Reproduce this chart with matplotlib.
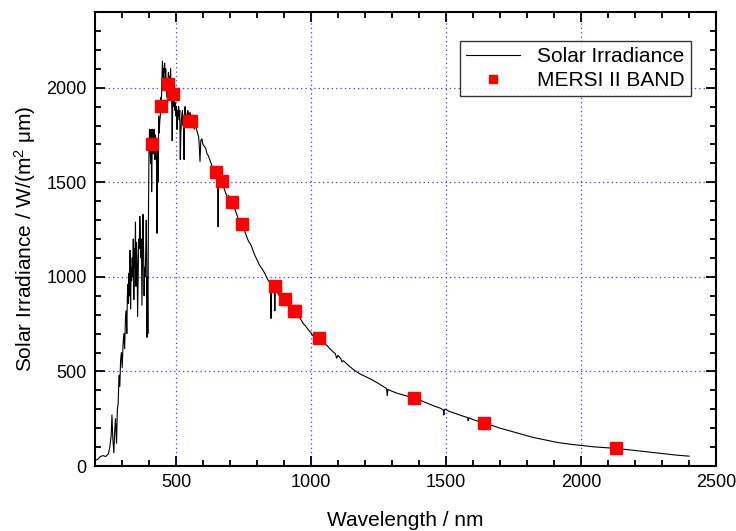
import matplotlib
matplotlib.use("Agg")
import matplotlib.pyplot as plt
from matplotlib.ticker import MultipleLocator

# solar spectrum (nm, W/(m2 um))
wavelength = [
    200, 210, 220, 230, 240, 250, 255, 260, 263, 266, 270, 273, 276, 280, 283, 286, 289, 292, 295, 298,
    301, 304, 307, 310, 313, 316, 318, 320, 322, 324, 326, 328, 330, 332, 334, 336, 338, 340, 342, 344,
    346, 348, 350, 352, 354, 356, 358, 360, 362, 364, 366, 368, 370, 372, 374, 376, 378, 380, 382, 384,
    386, 388, 390, 392, 393, 394, 396, 398, 400, 402, 404, 406, 408, 410, 412, 414, 416, 418, 420, 422,
    424, 426, 428, 430, 432, 434, 436, 438, 440, 442, 444, 446, 448, 450, 452, 454, 456, 458, 460, 462,
    464, 466, 468, 470, 472, 474, 476, 478, 480, 482, 484, 486, 488, 490, 492, 494, 496, 498, 500, 502,
    504, 506, 508, 510, 512, 514, 516, 518, 520, 522, 524, 526, 528, 530, 532, 534, 536, 540, 544, 548,
    552, 556, 560, 564, 568, 572, 576, 580, 584, 586, 589, 592, 596, 600, 605, 610, 615, 620, 625, 630,
    635, 640, 645, 650, 654, 656, 658, 662, 666, 670, 675, 680, 685, 690, 695, 700, 705, 710, 715, 720,
    725, 730, 735, 740, 745, 750, 755, 760, 765, 770, 775, 780, 790, 800, 810, 820, 830, 840, 845, 850,
    852, 854, 856, 860, 864, 866, 868, 875, 880, 890, 900, 910, 920, 930, 936, 940, 944, 950, 960, 970,
    980, 990, 1000, 1005, 1010, 1020, 1030, 1040, 1050, 1060, 1070, 1080, 1090, 1095, 1100, 1110, 1115, 1120, 1130, 1140,
    1150, 1160, 1170, 1180, 1190, 1200, 1210, 1220, 1230, 1240, 1250, 1260, 1270, 1280, 1282, 1285, 1300, 1320, 1340, 1360,
    1380, 1400, 1420, 1440, 1460, 1480, 1490, 1492, 1494, 1500, 1510, 1520, 1540, 1560, 1580, 1582, 1584, 1600, 1620, 1640,
    1660, 1680, 1700, 1720, 1740, 1760, 1780, 1800, 1820, 1840, 1860, 1880, 1900, 1920, 1940, 1960, 1980, 2000, 2050, 2100,
    2130, 2150, 2200, 2250, 2300, 2350, 2400,
]
irradiance = [
    30, 35, 50, 55, 50, 65, 100, 160, 270, 150, 70, 180, 250, 120, 300, 330, 480, 420, 560, 600,
    520, 640, 700, 620, 780, 820, 700, 900, 960, 860, 1020, 900, 1140, 830, 1050, 980, 1100, 1000, 1200, 880,
    1150, 1050, 1290, 950, 1180, 1100, 790, 1000, 1200, 1150, 1320, 1250, 1100, 1200, 850, 1100, 1330, 1150, 900, 1050,
    1000, 1120, 1300, 1050, 680, 1000, 700, 1300, 1650, 1780, 1700, 1600, 1780, 1450, 1700, 1780, 1650, 1700, 1780, 1620,
    1750, 1720, 1600, 1230, 1700, 1500, 1850, 1760, 1820, 1850, 1950, 1900, 2050, 2140, 2020, 2100, 2080, 2130, 2050, 2100,
    2020, 1950, 2050, 2000, 2080, 1980, 2060, 2020, 2100, 2000, 1960, 1720, 1920, 1980, 1900, 1950, 1880, 1920, 1850, 1900,
    1780, 1880, 1850, 1900, 1830, 1880, 1620, 1750, 1830, 1860, 1880, 1800, 1850, 1620, 1880, 1900, 1860, 1840, 1880, 1850,
    1870, 1840, 1800, 1830, 1780, 1810, 1780, 1760, 1740, 1700, 1610, 1720, 1730, 1700, 1690, 1680, 1650, 1640, 1620, 1600,
    1580, 1575, 1560, 1550, 1540, 1265, 1530, 1525, 1510, 1500, 1480, 1460, 1440, 1420, 1430, 1410, 1395, 1380, 1370, 1350,
    1330, 1310, 1300, 1290, 1275, 1260, 1240, 1220, 1200, 1185, 1175, 1160, 1120, 1090, 1060, 1040, 1015, 985, 975, 960,
    780, 960, 950, 940, 935, 820, 935, 920, 905, 890, 885, 870, 850, 830, 820, 790, 810, 800, 780, 755,
    740, 720, 705, 690, 695, 685, 675, 665, 650, 635, 620, 606, 594, 570, 585, 568, 550, 557, 543, 530,
    518, 507, 497, 488, 481, 474, 467, 460, 452, 444, 436, 427, 418, 409, 372, 405, 395, 384, 376, 368,
    360, 350, 338, 326, 315, 305, 295, 270, 300, 298, 290, 285, 275, 265, 256, 240, 255, 245, 236, 227,
    218, 210, 200, 192, 184, 176, 168, 160, 152, 146, 140, 134, 128, 123, 119, 115, 112, 109, 101, 96,
    93, 90, 82, 74, 66, 58, 52,
]

# MERSI-II band centres and their solar irradiance
band_wl = [412, 443, 470, 490, 550, 555, 650, 670, 709, 746, 865, 905, 936, 940, 1030, 1380, 1640, 2130]
band_irr = [1704, 1905, 2021, 1968, 1825, 1825, 1555, 1508, 1397, 1280, 952, 883, 820, 820, 677, 360, 227, 95]

plt.rcParams["font.family"] = ["Liberation Sans", "DejaVu Sans"]
plt.rcParams["mathtext.default"] = "regular"

fig = plt.figure(figsize=(7.36, 5.31), dpi=100)
ax = fig.add_axes([0.129, 0.1224, 0.844, 0.8550])

ax.plot(wavelength, irradiance, color="black", lw=0.8, label="Solar Irradiance", zorder=3)
ax.plot(band_wl, band_irr, ls="none", marker="s", ms=8, color="red", mec="red",
        label="MERSI II BAND", zorder=4)

ax.set_xlim(200, 2500)
ax.set_ylim(0, 2400)
ax.xaxis.set_major_locator(MultipleLocator(500))
ax.xaxis.set_minor_locator(MultipleLocator(100))
ax.yaxis.set_major_locator(MultipleLocator(500))
ax.yaxis.set_minor_locator(MultipleLocator(100))
ax.tick_params(which="both", direction="in", top=True, right=True, labelsize=13, width=1.3)
ax.tick_params(which="major", length=7, pad=6)
ax.tick_params(which="minor", length=4)
for s in ax.spines.values():
    s.set_linewidth(1.5)
ax.grid(True, which="major", color="#3a3aff", ls=(0, (1, 2.5)), lw=0.9)

ax.set_xlabel("Wavelength / nm", fontsize=15, labelpad=14)
ax.set_ylabel("Solar Irradiance / W/(m$^2$ μm)", fontsize=15, labelpad=6)

leg = ax.legend(loc="upper right", bbox_to_anchor=(0.976, 0.96), fontsize=15, frameon=True,
                fancybox=False, edgecolor="black", handlelength=2.6, borderpad=0.3,
                labelspacing=0.25, numpoints=1, markerscale=0.8)
leg.get_frame().set_linewidth(1.0)

fig.savefig("out.png", dpi=100)
